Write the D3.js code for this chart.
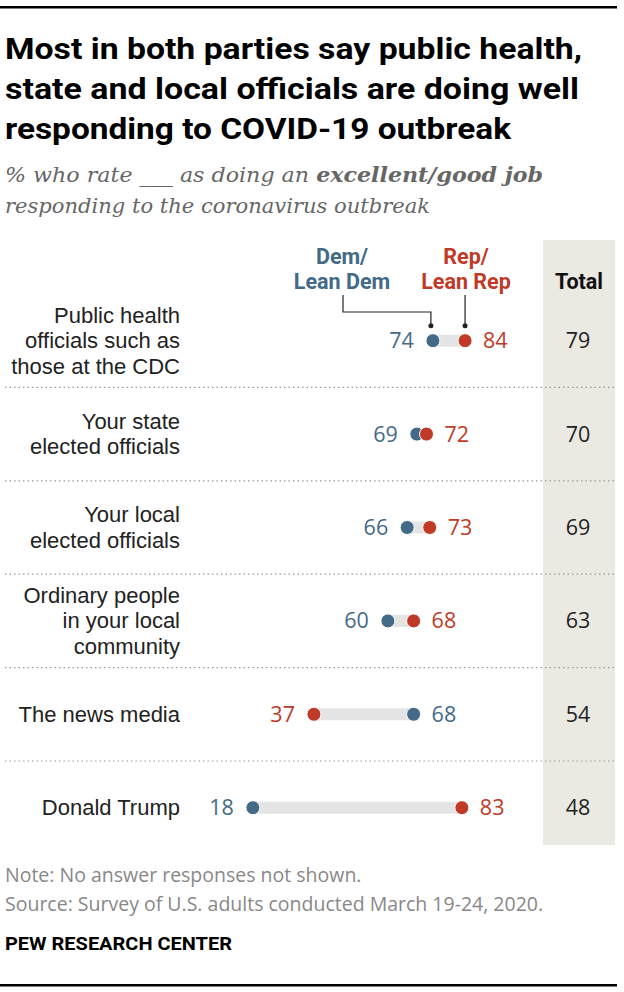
<!DOCTYPE html>
<html><head><meta charset="utf-8">
<script src="https://cdn.jsdelivr.net/npm/d3@7"></script>
<style>
body{margin:0;background:#fff;}
svg{display:block;}
</style></head>
<body>
<script>
const categories = ["Public health officials such as those at the CDC","Your state elected officials","Your local elected officials","Ordinary people in your local community","The news media","Donald Trump"];
const labelLines = [["Public health","officials such as","those at the CDC"],["Your state","elected officials"],["Your local","elected officials"],["Ordinary people","in your local","community"],["The news media"],["Donald Trump"]];
const demValues = [74,69,66,60,68,18];
const repValues = [84,72,73,68,37,83];
const totalValues = [79,70,69,63,54,48];

const W=624,H=992;
const DEM="#436A87", REP="#BF3A27", TXT="#222";
const BODY="Open Sans";
const svg=d3.select("body").append("svg").attr("width",W).attr("height",H);

// rules
svg.append("rect").attr("x",0).attr("y",6).attr("width",617).attr("height",2.5).attr("fill","#000");
svg.append("rect").attr("x",0).attr("y",984).attr("width",617).attr("height",2.5).attr("fill","#000");

// title
const title=["Most in both parties say public health,","state and local officials are doing well","responding to COVID-19 outbreak"];
const titleW=[577,574,506];
svg.append("g").selectAll("text").data(title).join("text")
 .attr("x",5).attr("y",(d,i)=>59+i*40)
 .attr("font-family","Roboto").attr("font-weight",700).attr("font-size",30)
 .attr("textLength",(d,i)=>titleW[i]).attr("lengthAdjust","spacingAndGlyphs")
 .attr("fill","#000").text(d=>d);

// subtitle
const sub=svg.append("g").attr("font-family","DejaVu Serif").attr("font-style","italic").attr("font-size",20.5).attr("fill","#666");
const s1=sub.append("text").attr("x",5).attr("y",182).attr("textLength",538).attr("lengthAdjust","spacingAndGlyphs");
s1.append("tspan").text("% who rate ___ as doing an ");
s1.append("tspan").attr("font-weight",700).text("excellent/good job");
sub.append("text").attr("x",5).attr("y",213).attr("textLength",425).attr("lengthAdjust","spacingAndGlyphs").text("responding to the coronavirus outbreak");

const x=d3.scaleLinear().domain([0,100]).range([195,516.5]);
const y=d3.scaleBand().domain(categories).range([294,854.4]);
const yc=c=>y(c)+y.bandwidth()/2;

// total column bg
svg.append("rect").attr("x",543).attr("y",240).attr("width",72).attr("height",605).attr("fill","#EBEAE2");
svg.append("text").attr("x",579).attr("y",289).attr("text-anchor","middle")
 .attr("font-family","Roboto").attr("font-weight",700).attr("font-size",21.5).attr("fill","#111").text("Total");

// separators
svg.append("g").selectAll("line").data(categories.slice(1)).join("line")
 .attr("x1",5).attr("x2",615).attr("y1",c=>y(c)).attr("y2",c=>y(c))
 .attr("stroke","#999").attr("stroke-width",1.2).attr("stroke-dasharray","1.5,3");

// row labels
const lg=svg.append("g").attr("font-family","Liberation Sans").attr("font-size",22).attr("fill",TXT).attr("text-anchor","end");
categories.forEach((c,i)=>{
  const lines=labelLines[i], n=lines.length, lh=25.6;
  lines.forEach((l,j)=>{
    lg.append("text").attr("x",180).attr("y",yc(c)+(j-(n-1)/2)*lh+7.5).text(l);
  });
});

// bars
const rows=categories.map((c,i)=>({c,dem:demValues[i],rep:repValues[i],tot:totalValues[i]}));
svg.append("g").selectAll("line").data(rows).join("line")
 .attr("x1",d=>x(Math.min(d.dem,d.rep))).attr("x2",d=>x(Math.max(d.dem,d.rep)))
 .attr("y1",d=>yc(d.c)).attr("y2",d=>yc(d.c))
 .attr("stroke","#E4E4E4").attr("stroke-width",12);

const dg=svg.append("g");
rows.forEach(d=>{
  dg.append("circle").attr("cx",x(d.dem)).attr("cy",yc(d.c)).attr("r",7).attr("fill",DEM).attr("stroke","#fff").attr("stroke-width",1);
  dg.append("circle").attr("cx",x(d.rep)).attr("cy",yc(d.c)).attr("r",7).attr("fill",REP).attr("stroke","#fff").attr("stroke-width",1);
});

// value labels
const vg=svg.append("g").attr("font-family",BODY).attr("font-size",21.5);
rows.forEach(d=>{
  const lo=d.dem<=d.rep?{v:d.dem,col:DEM}:{v:d.rep,col:REP};
  const hi=d.dem<=d.rep?{v:d.rep,col:REP}:{v:d.dem,col:DEM};
  vg.append("text").attr("x",x(lo.v)-19).attr("y",yc(d.c)+7.5).attr("text-anchor","end").attr("fill",lo.col).text(lo.v);
  vg.append("text").attr("x",x(hi.v)+18).attr("y",yc(d.c)+7.5).attr("text-anchor","start").attr("fill",hi.col).text(hi.v);
  vg.append("text").attr("x",578).attr("y",yc(d.c)+7.5).attr("text-anchor","middle").attr("fill",TXT).text(d.tot);
});

// legend
const leg=svg.append("g").attr("font-family","Roboto").attr("font-weight",700).attr("font-size",21.5).attr("text-anchor","middle");
leg.append("text").attr("x",342).attr("y",264).attr("fill",DEM).text("Dem/");
leg.append("text").attr("x",342).attr("y",289).attr("fill",DEM).text("Lean Dem");
leg.append("text").attr("x",466).attr("y",264).attr("fill",REP).text("Rep/");
leg.append("text").attr("x",466).attr("y",289).attr("fill",REP).text("Lean Rep");
const r0=rows[0], ly=yc(r0.c);
svg.append("path").attr("d",`M343,295 V312 H${x(r0.dem)-2} V${ly-15}`).attr("fill","none").attr("stroke","#222").attr("stroke-width",1.2);
svg.append("path").attr("d",`M${x(r0.rep)},295 V${ly-15}`).attr("fill","none").attr("stroke","#222").attr("stroke-width",1.2);
svg.append("circle").attr("cx",x(r0.dem)-2).attr("cy",ly-15).attr("r",2.5).attr("fill","#222");
svg.append("circle").attr("cx",x(r0.rep)).attr("cy",ly-15).attr("r",2.5).attr("fill","#222");

// footer
const ft=svg.append("g").attr("font-family",BODY).attr("font-size",19.5).attr("fill","#888");
ft.append("text").attr("x",5).attr("y",882).text("Note: No answer responses not shown.");
ft.append("text").attr("x",5).attr("y",911).text("Source: Survey of U.S. adults conducted March 19-24, 2020.");
svg.append("text").attr("x",5).attr("y",950).attr("font-family","Roboto").attr("font-weight",700).attr("font-size",18.5)
 .attr("textLength",227).attr("lengthAdjust","spacingAndGlyphs").attr("fill","#000").text("PEW RESEARCH CENTER");
</script>
</body></html>
